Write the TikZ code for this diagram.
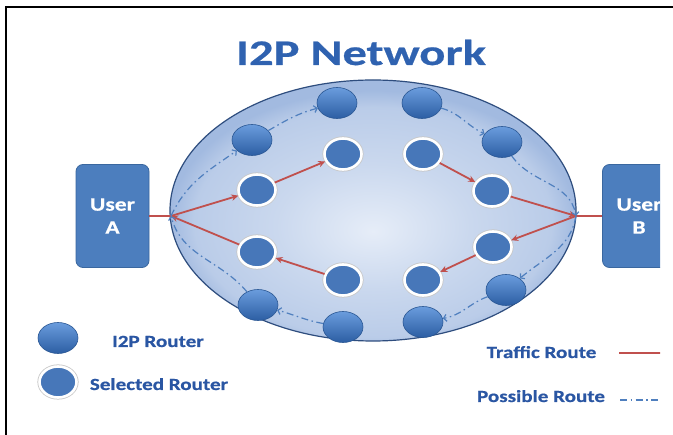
\documentclass[tikz,border=0pt]{standalone}
\usepackage{fontspec}
\setmainfont{Carlito}
\newfontfamily\ttlfont[FakeStretch=1.35,FakeBold=0.6]{Carlito}
\newfontfamily\lgfont[FakeStretch=1.24,FakeBold=0.5]{Carlito}
\usetikzlibrary{shapes.geometric,arrows.meta}
\definecolor{redroute}{HTML}{C0504D}
\definecolor{blueroute}{HTML}{4F7FBE}
\definecolor{txtblue}{HTML}{2A56A3}
\definecolor{ttlblue}{HTML}{2F62B0}
\definecolor{rtop}{HTML}{6A9CDD}
\definecolor{rbot}{HTML}{2C5EA3}
\definecolor{rline}{HTML}{2A5794}
\definecolor{selfill}{HTML}{4777B9}
\definecolor{boxfill}{HTML}{4C7EBE}
\definecolor{boxline}{HTML}{3A679F}
\definecolor{ellin}{HTML}{E6EDF8}
\definecolor{ellmid}{HTML}{CAD8EE}
\definecolor{ellout}{HTML}{A2BAE0}
\definecolor{ellline}{HTML}{2E4D7E}
\pgfdeclareradialshading{ellshade}{\pgfpoint{0bp}{-4bp}}{color(0bp)=(ellin); color(12bp)=(ellmid); color(22bp)=(ellmid!60!ellout); color(25bp)=(ellout); color(50bp)=(ellout)}
\begin{document}
\begin{tikzpicture}[x=1pt,y=1pt,
  router/.style={ellipse, minimum width=40pt, minimum height=31pt, inner sep=0pt,
    top color=rtop, bottom color=rbot, draw=rline, line width=0.6pt},
  selrouter/.style={ellipse, minimum width=37pt, minimum height=31pt, inner sep=0pt,
    fill=selfill, draw=white, line width=2.6pt, preaction={draw=black!22, line width=4.2pt}},
  userbox/.style={rectangle, rounded corners=7pt, minimum width=73pt, minimum height=103pt,
    fill=boxfill, draw=boxline, line width=0.8pt, text=white, align=center,
    font=\lgfont\bfseries\fontsize{19}{23}\selectfont},
  traffic/.style={draw=redroute, line width=1.8pt, -{Stealth[length=7pt,width=6.5pt]}},
  trafficline/.style={draw=redroute, line width=1.8pt},
  possible/.style={draw=blueroute, line width=1.2pt,
    dash pattern=on 7pt off 3.5pt on 1.5pt off 3.5pt,
    -{Straight Barb[length=3pt,width=7pt]}},
  possibleline/.style={draw=blueroute, line width=1.2pt,
    dash pattern=on 7pt off 3.5pt on 1.5pt off 3.5pt},
  legendtext/.style={text=txtblue, font=\lgfont\bfseries\fontsize{17}{20}\selectfont,
    inner sep=0pt, anchor=base}
]
\useasboundingbox (0,0) rectangle (673,-435);
\fill[white] (0,0) rectangle (673,-435);

% frame
\draw[line width=2pt] (5.5,-435) -- (5.5,-7.5) -- (673,-7.5);

% title
\node[text=ttlblue, font=\ttlfont\bfseries\fontsize{36}{40}\selectfont, inner sep=0pt, anchor=base]
  (title) at (361,-65) {I2P Network};

% network ellipse
\shade[shading=ellshade] (373,-210.5) ellipse [x radius=203, y radius=130.5];
\draw[ellline, line width=1.2pt] (373,-210.5) ellipse [x radius=203, y radius=130.5];

% junctions
\coordinate (JA) at (171,-216);
\coordinate (JB) at (576,-216);

% users
\node[userbox] (UA) at (112.5,-216) {User\\A};
\begin{scope}
  \clip (0,0) rectangle (660,-435);
  \node[userbox] (UB) at (639,-216) {User\\B};
\end{scope}

% plain routers
\node[router] (P1) at (252,-140) {};
\node[router] (P2) at (337,-103) {};
\node[router] (P3) at (422,-103) {};
\node[router] (P4) at (502,-142) {};
\node[router] (P5) at (506,-290) {};
\node[router] (P6) at (423,-322) {};
\node[router] (P7) at (343,-327) {};
\node[router] (P8) at (258,-305) {};

% selected routers
\node[selrouter] (S1) at (257,-190) {};
\node[selrouter] (S2) at (343,-154) {};
\node[selrouter] (S3) at (423,-154) {};
\node[selrouter] (S4) at (492,-191) {};
\node[selrouter] (S5) at (493,-247) {};
\node[selrouter] (S6) at (423,-280) {};
\node[selrouter] (S7) at (343,-280) {};
\node[selrouter] (S8) at (257,-252) {};

% traffic route
\draw[trafficline] (UA.east) -- (JA);
\draw[trafficline] (JB) -- (UB.west);
\draw[traffic] (JA) -- (S1);
\draw[traffic] (S1) -- (S2);
\draw[traffic] (S3) -- (S4);
\draw[traffic] (S4) -- (JB);
\draw[traffic] (JB) -- (S5);
\draw[traffic] (S5) -- (S6);
\draw[traffic] (S7) -- (S8);
\draw[traffic] (S8) -- (JA);

% possible route
\draw[possible] (JA) to[out=65,in=215] (P1);
\draw[possible] (P1) to[out=30,in=195] (P2);
\draw[possible] (P3) to[out=-15,in=155] (P4);
\draw[possible] (P4) to[out=-55,in=100] (JB);
\draw[possible] (JB) to[out=-100,in=40] (P5);
\draw[possible] (P5) to[out=200,in=10] (P6);
\draw[possible] (P7) to[out=170,in=-15] (P8);
\draw[possible] (P8) to[out=130,in=-75] (JA);

% legend
\node[router] (LR1) at (58,-338) {};
\node[legendtext] (LT1) at (158,-347) {I2P Router};
\node[selrouter] (LR2) at (58,-382) {};
\node[legendtext] (LT2) at (159,-390) {Selected Router};
\node[legendtext] (LT3) at (541.5,-358) {Traffic Route};
\node[legendtext] (LT4) at (541,-402) {Possible Route};
\coordinate (TR1) at (619,-353);
\coordinate (TR2) at (665,-353);
\coordinate (PR1) at (620,-400);
\coordinate (PR2) at (665,-400);
\begin{scope}
  \clip (0,0) rectangle (660,-435);
  \draw[trafficline] (TR1) -- (TR2);
  \draw[possibleline] (PR1) -- (PR2);
\end{scope}
\end{tikzpicture}
\end{document}
